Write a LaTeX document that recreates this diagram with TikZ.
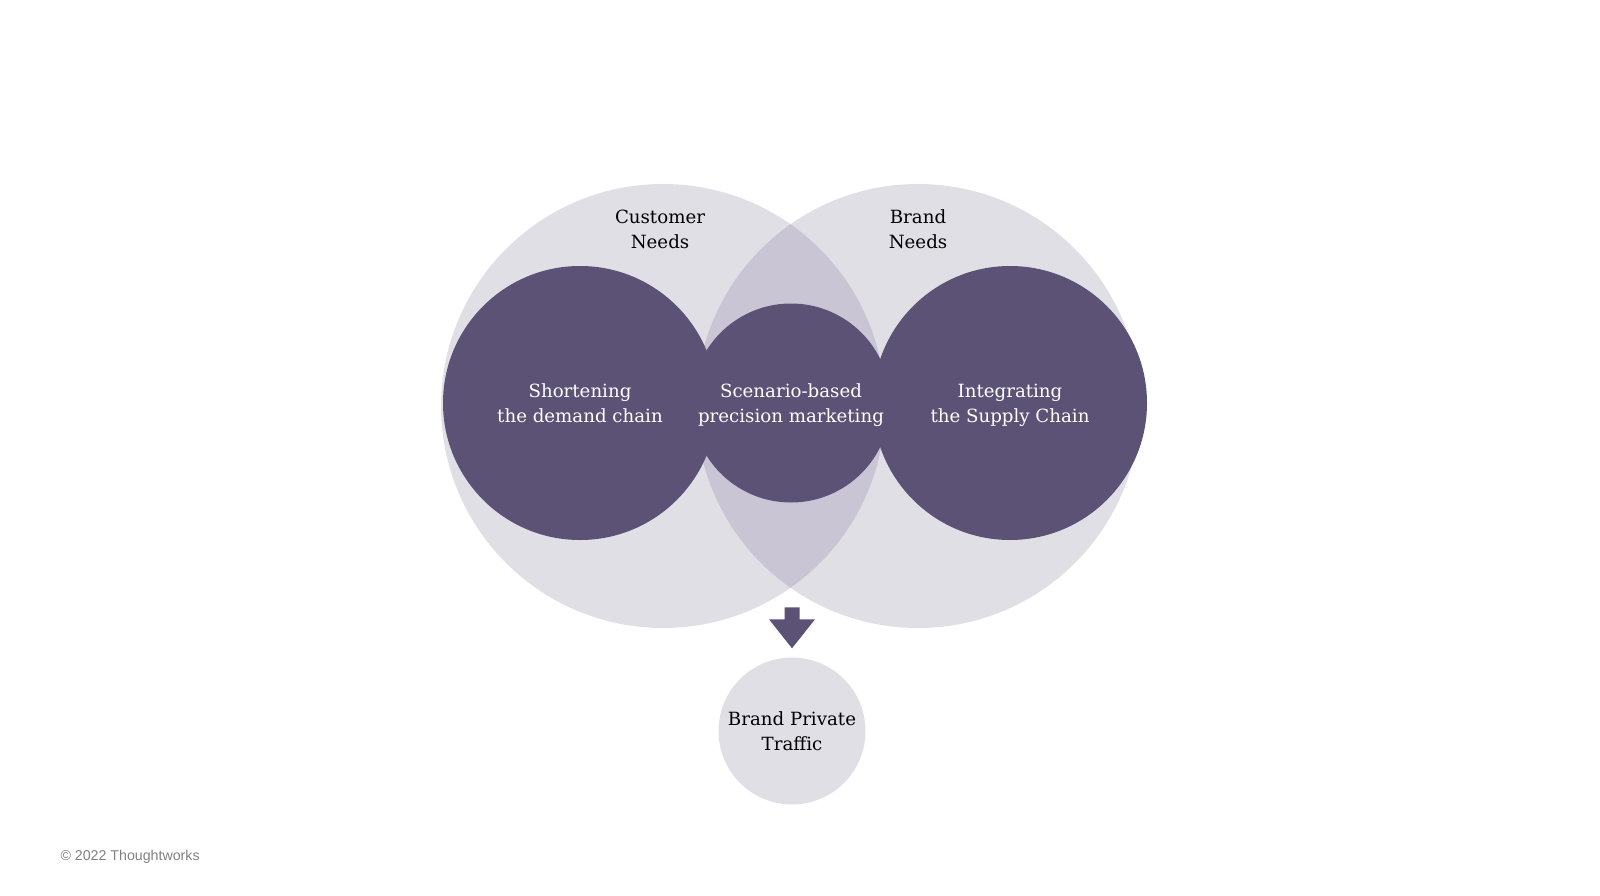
\documentclass[tikz,border=0pt]{standalone}
\usepackage{fontspec}
\setmainfont{DejaVu Serif}
\newfontfamily\footfont{Liberation Sans}
\usepackage{tikz}
\usetikzlibrary{positioning,calc}
\usepackage{xcolor}
\definecolor{plum}{HTML}{5C5275}
\definecolor{mist}{HTML}{E0DFE6}
\definecolor{lens}{HTML}{C9C5D4}
\newcommand\lineStrut{\rule[-5.35pt]{0pt}{24.5pt}}

\begin{document}
\begin{tikzpicture}[x=1pt, y=-1pt,
    needsCircle/.style={circle, fill=mist, minimum size=444pt, inner sep=0pt},
    focusCircle/.style={circle, fill=plum, text=white, align=center, inner sep=0pt, font=\fontsize{18.2}{24.5}\selectfont},
    labelText/.style={align=center, text=black, font=\fontsize{18.2}{24.5}\selectfont},
    trafficCircle/.style={circle, fill=mist, minimum size=147pt, inner sep=0pt, align=center, font=\fontsize{18.2}{24.5}\selectfont}
]
    \useasboundingbox (0,0) rectangle (1600,896);

    % two overlapping needs circles
    \node[needsCircle] (cust) at (663,406) {};
    \node[needsCircle] (brand) at (918,406) {};
    \begin{scope}
        \clip (cust.center) circle[radius=222pt];
        \fill[lens] (brand.center) circle[radius=222pt];
    \end{scope}

    \node[labelText] (custLabel) at (660,229) {Customer\lineStrut\\Needs\lineStrut};
    \node[labelText] (brandLabel) at (918,229) {Brand\lineStrut\\Needs\lineStrut};

    % focus circles
    \node[focusCircle, minimum size=274pt] (demand) at (580,403) {Shortening\lineStrut\\the demand chain\lineStrut};
    \node[focusCircle, minimum size=274pt] (supply) at (1010,403) {Integrating\lineStrut\\the Supply Chain\lineStrut};
    \node[focusCircle, minimum size=199pt] (scenario) at (791,403) {Scenario-based\lineStrut\\precision marketing\lineStrut};

    \node[trafficCircle] (traffic) at (792,731) {Brand Private\lineStrut\\Traffic\lineStrut};

    % block arrow towards traffic
    \coordinate (tip) at ($(traffic.north)+(0,-9)$);
    \fill[plum] (tip) -- ++(-23,-29) -- ++(15.5,0) -- ++(0,-12) -- ++(15,0)
        -- ++(0,12) -- ++(15.5,0) -- cycle;

    \node[anchor=west, text=black!50, font=\footfont\fontsize{14.2}{16}\selectfont] (copy) at (57,857) {\textcopyright{} 2022 Thoughtworks};
\end{tikzpicture}
\end{document}
